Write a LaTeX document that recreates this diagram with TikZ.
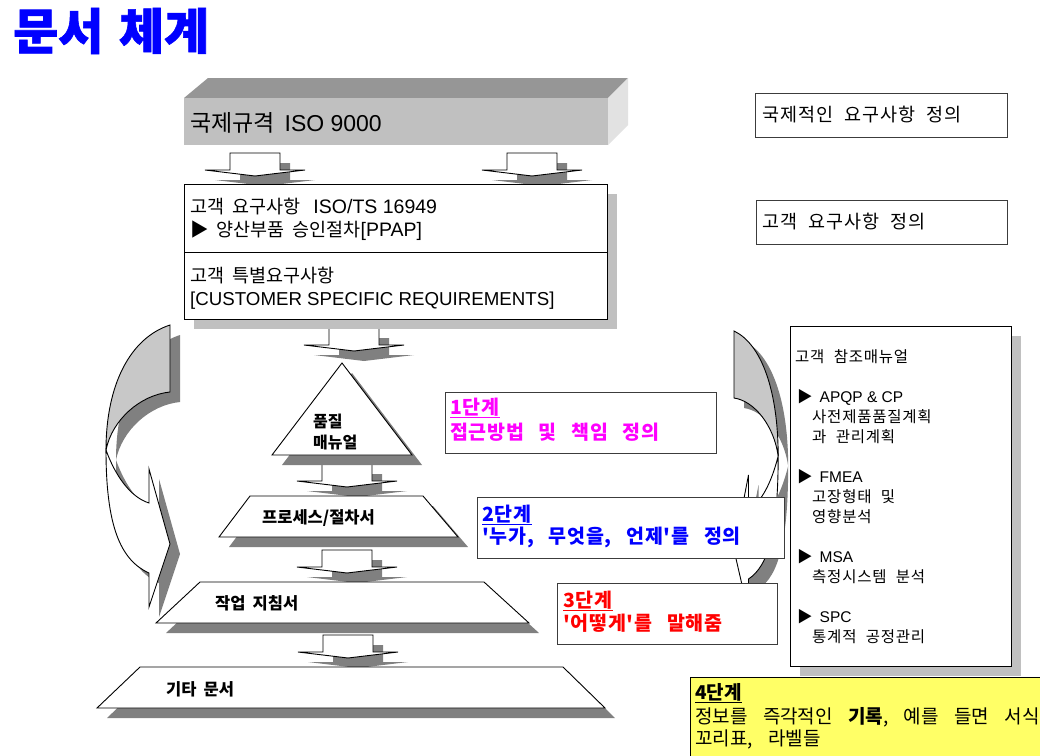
\documentclass[tikz,border=0pt]{standalone}
\usepackage{fontspec}
\setmainfont{Noto Sans CJK KR}[Ligatures=TeXOff, LetterSpace=5, WordSpace=2.2]
\newfontfamily\tightfont{Noto Sans CJK KR}[Ligatures=TeXOff, WordSpace=1.4]
\newfontfamily\stagefont{Noto Sans CJK KR}[LetterSpace=4, WordSpace=2.8, Ligatures=TeXOff]
\newfontfamily\notefont{Noto Sans CJK KR}[WordSpace=1.9, Ligatures=TeXOff]
\newfontfamily\arial{Liberation Sans}
\usepackage{tikz}
\definecolor{shadowdark}{HTML}{808080}
\definecolor{shadowlight}{HTML}{C0C0C0}
\definecolor{bartop}{HTML}{969696}
\definecolor{barfront}{HTML}{C0C0C0}
\definecolor{barside}{HTML}{E2E2E2}
\definecolor{backgray}{HTML}{C8C8C8}
\definecolor{boxline}{HTML}{3C3C3C}
\definecolor{stagemag}{HTML}{FF00FF}
\definecolor{stageblue}{HTML}{0000FF}
\definecolor{stagered}{HTML}{FF0000}
\definecolor{noteyellow}{HTML}{FFFF66}
\newcommand{\fsz}[1]{\fontsize{#1}{#1}\selectfont}
% curved arrow, local coordinates (top outer corner at origin)
\newcommand{\curveback}{(0,0) .. controls (-40,13) and (-64,60) .. (-64,125) .. controls (-58,95) and (-30,70) .. (0,67) -- cycle}
\newcommand{\curvefront}{(-64,125) .. controls (-55,150) and (-40,172) .. (-21,178) -- (-21,144) -- (0,219) -- (-21,282) -- (-21,248) .. controls (-50,235) and (-64,200) .. (-64,125) -- cycle}
\tikzset{
  plate/.style={draw=black, fill=white, line width=0.9pt},
  shadowed/.style={preaction={fill=#1, draw=none, transform canvas={shift={(10pt,-10pt)}}}},
  shadowed/.default=shadowdark,
  txt/.style={anchor=west, inner sep=0pt},
  framebox/.style={rectangle, anchor=north west, inner sep=0pt, line width=#1},
  framebox/.default=0.9pt,
  stagebox/.style={framebox=1.3pt, draw=boxline, fill=white},
  stagetxt/.style={txt, font=\stagefont\fsz{19.5}\bfseries},
  reftxt/.style={txt, font=\fsz{15.5}},
  blockdown/.pic={\path[plate, shadowed] (-25,0) -- (-25,17) -- (-50,17) -- (0,23) -- (50,17) -- (25,17) -- (25,0) -- cycle;},
}

\begin{document}
\begin{tikzpicture}[x=1pt, y=-1pt]
\useasboundingbox[fill=white] (0,0) rectangle (1040,755);

\node[txt, font=\tightfont\fsz{49}\bfseries\addfontfeature{FakeBold=1.2}, text=stageblue] (title) at (13,31) {문서 체계};

% ISO bar
\path[fill=bartop] (184,98) -- (208,78) -- (628,78) -- (608,98) -- cycle;
\path[fill=barside] (608,98) -- (628,78) -- (628,125) -- (608,145) -- cycle;
\node[framebox, fill=barfront, minimum width=424pt, minimum height=47pt] (iso) at (184,98) {};
\node[txt, font=\tightfont\fsz{23}] (isotxt) at (190,123) {국제규격 {\arial ISO 9000}};

% block arrows
\pic at (255,153) {blockdown};
\pic at (532,153) {blockdown};
\pic at (354,328) {blockdown};
\pic at (347,464) {blockdown};
\pic at (347,550) {blockdown};
\pic at (348,635) {blockdown};

% customer requirements
\node[framebox, plate, shadowed=shadowlight, minimum width=423pt, minimum height=68pt] (custa) at (184,184) {};
\node[framebox, plate, shadowed=shadowlight, minimum width=423pt, minimum height=67pt] (custb) at (184,252) {};
\node[txt, font=\tightfont\fsz{18.5}] (custa1) at (190,207) {고객 요구사항 {\arial\fsz{19.5} ISO/TS 16949}};
\node[txt, font=\tightfont\fsz{18.5}] (custa2) at (190,231) {▶ 양산부품 승인절차{\arial\fsz{19.5}[PPAP]}};
\node[txt, font=\tightfont\fsz{18.5}] (custb1) at (190,276) {고객 특별요구사항};
\node[txt, font=\arial\fsz{18.7}] (custb2) at (190,301) {[CUSTOMER SPECIFIC REQUIREMENTS]};

% pyramid
\path[plate, shadowed] (342,363) -- (272,455) -- (412,455) -- cycle;
\node[txt, font=\tightfont\fsz{16}\bfseries] (qm1) at (313,421) {품질};
\node[txt, font=\tightfont\fsz{16}\bfseries] (qm2) at (313,442) {매뉴얼};
\path[plate, shadowed] (219,537) -- (250,496) -- (423,496) -- (458,537) -- cycle;
\node[txt, font=\tightfont\fsz{16.5}\bfseries] (proc) at (262,518) {프로세스/절차서};
\path[plate, shadowed] (156,623) -- (200,582) -- (484,582) -- (529,623) -- cycle;
\node[txt, font=\tightfont\fsz{16.5}\bfseries] (work) at (215,603) {작업 지침서};
\path[plate, shadowed] (97,708) -- (140,667) -- (563,667) -- (605,708) -- cycle;
\node[txt, font=\tightfont\fsz{16.5}\bfseries] (other) at (166,689) {기타 문서};

% curved arrows
\begin{scope}[shift={(180,335)}]
  \fill[shadowdark] \curveback;
  \fill[shadowdark] \curvefront;
\end{scope}
\begin{scope}[shift={(170,325)}]
  \path[plate, fill=backgray] \curveback;
  \path[plate] \curvefront;
\end{scope}
\begin{scope}[shift={(744,341)}, xscale=-0.69]
  \fill[shadowdark] \curveback;
  \fill[shadowdark] \curvefront;
\end{scope}
\begin{scope}[shift={(734,331)}, xscale=-0.69]
  \path[plate, fill=backgray] \curveback;
  \path[plate] \curvefront;
\end{scope}

% stages
\node[stagebox, minimum width=271pt, minimum height=61pt] (s1) at (445,392) {};
\node[stagetxt, text=stagemag] (s1a) at (450,408) {\underline{1단계}};
\node[stagetxt, text=stagemag] (s1b) at (450,432) {접근방법 및 책임 정의};
\node[stagebox, minimum width=307pt, minimum height=61pt] (s2) at (477,497) {};
\node[stagetxt, text=stageblue] (s2a) at (482,515) {\underline{2단계}};
\node[stagetxt, text=stageblue] (s2b) at (482,537) {'누가, 무엇을, 언제'를 정의};
\node[stagebox, minimum width=220pt, minimum height=61pt] (s3) at (557,583) {};
\node[stagetxt, text=stagered] (s3a) at (563,601) {\underline{3단계}};
\node[stagetxt, text=stagered] (s3b) at (563,623) {'어떻게'를 말해줌};

% right column
\node[framebox=1.2pt, draw=boxline, fill=white, minimum width=252pt, minimum height=44pt] (intl) at (755,93) {};
\node[txt, font=\fsz{18.5}] (intltxt) at (762,115) {국제적인 요구사항 정의};
\node[framebox=1.2pt, draw=boxline, fill=white, minimum width=251pt, minimum height=44pt] (cdef) at (756,200) {};
\node[txt, font=\fsz{18.5}] (cdeftxt) at (762,222) {고객 요구사항 정의};
\node[framebox, plate, shadowed=shadowlight, minimum width=221pt, minimum height=340pt] (ref) at (790,326) {};
\foreach \yy/\xx/\entry in {357/795/{고객 참조매뉴얼}, 397/797/{▶\hspace{7pt}{\arial APQP \& CP}}, 417/812/{사전제품품질계획}, 437/812/{과 관리계획},
  477/797/{▶\hspace{7pt}{\arial FMEA}}, 497/812/{고장형태 및}, 517/812/{영향분석},
  557/797/{▶\hspace{7pt}{\arial MSA}}, 577/812/{측정시스템 분석},
  617/797/{▶\hspace{7pt}{\arial SPC}}, 637/812/{통계적 공정관리}}
  \node[reftxt] (ref-\yy) at (\xx,\yy) {\entry};

% stage 4
\node[framebox=1pt, draw=black, fill=noteyellow, minimum width=380pt, minimum height=100pt] (s4) at (690,677) {};
\node[txt, font=\tightfont\fsz{19}\bfseries] (s4a) at (695,693) {\underline{4단계}};
\node[txt, font=\notefont\fsz{19}] (s4b) at (695,717) {정보를 즉각적인 \textbf{기록}, 예를 들면 서식,};
\node[txt, font=\notefont\fsz{19}] (s4c) at (695,739) {꼬리표, 라벨들};
\end{tikzpicture}
\end{document}
